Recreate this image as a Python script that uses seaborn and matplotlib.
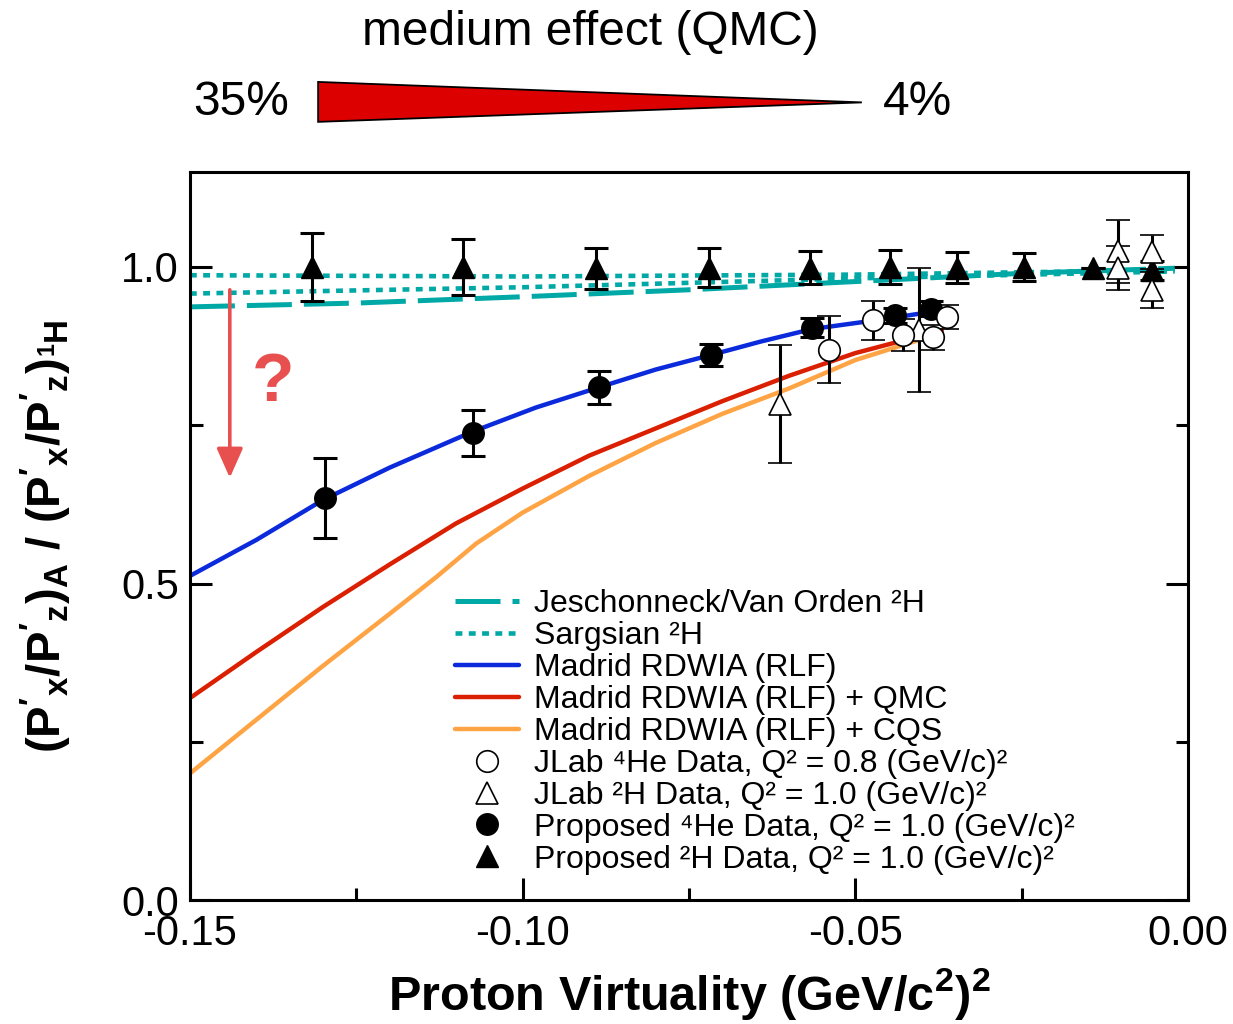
import numpy as np
import pandas as pd
import matplotlib
matplotlib.use("Agg")
import matplotlib.pyplot as plt
import seaborn as sns
from matplotlib.lines import Line2D
from matplotlib.patches import Polygon

# ---------------- data ----------------
# theory curves
jvo_x = [-0.15, -0.125, -0.10, -0.075, -0.05, -0.025, -0.002]
jvo_y = [0.937, 0.943, 0.953, 0.964, 0.977, 0.990, 0.998]
sarg1_x = [-0.15, -0.10, -0.05, -0.002]
sarg1_y = [0.987, 0.985, 0.988, 0.995]
sarg2_x = [-0.15, -0.10, -0.05, -0.002]
sarg2_y = [0.958, 0.968, 0.982, 0.993]
rlf_x = [-0.15, -0.140, -0.130, -0.120, -0.1075, -0.098, -0.0885, -0.080, -0.0717, -0.0643, -0.0565, -0.0489, -0.043, -0.0368]
rlf_y = [0.512, 0.569, 0.632, 0.683, 0.740, 0.778, 0.810, 0.838, 0.861, 0.882, 0.902, 0.913, 0.922, 0.932]
qmc_x = [-0.15, -0.14, -0.13, -0.12, -0.11, -0.10, -0.09, -0.08, -0.07, -0.06, -0.05, -0.037]
qmc_y = [0.319, 0.392, 0.463, 0.530, 0.595, 0.650, 0.702, 0.745, 0.788, 0.828, 0.864, 0.900]
cqs_x = [-0.15, -0.14, -0.13, -0.12, -0.113, -0.107, -0.10, -0.09, -0.08, -0.07, -0.06, -0.05, -0.037]
cqs_y = [0.200, 0.285, 0.370, 0.452, 0.510, 0.563, 0.612, 0.670, 0.722, 0.768, 0.808, 0.853, 0.896]

# data points
jlab_he_x = [-0.0540, -0.0473, -0.0428, -0.0383, -0.0362]
jlab_he_y = [0.869, 0.916, 0.893, 0.889, 0.921]
jlab_he_e = [0.053, 0.031, 0.025, 0.020, 0.019]
jlab_d_x = [-0.0613, -0.0404, -0.0105, -0.0105, -0.0054, -0.0054]
jlab_d_y = [0.784, 0.900, 1.025, 0.998, 1.024, 0.964]
jlab_d_e = [0.093, 0.098, 0.050, 0.035, 0.027, 0.028]
prop_he_x = [-0.1297, -0.1075, -0.0885, -0.0717, -0.0565, -0.0440, -0.0386]
prop_he_y = [0.635, 0.738, 0.810, 0.861, 0.904, 0.924, 0.934]
prop_he_e = [0.063, 0.036, 0.026, 0.017, 0.015, 0.012, 0.012]
prop_d_x = [-0.1317, -0.1090, -0.0890, -0.0720, -0.0568, -0.0448, -0.0347, -0.0246, -0.0143, -0.0054]
prop_d_y = [1.0, 1.0, 0.998, 0.999, 0.999, 1.0, 0.999, 1.0, 0.998, 0.995]
prop_d_e = [0.054, 0.045, 0.032, 0.031, 0.026, 0.027, 0.024, 0.022, 0.0, 0.015]

labels = [
    "Jeschonneck/Van Orden \u00b2H",
    "Sargsian \u00b2H",
    "Madrid RDWIA (RLF)",
    "Madrid RDWIA (RLF) + QMC",
    "Madrid RDWIA (RLF) + CQS",
    "JLab \u2074He Data, Q\u00b2 = 0.8 (GeV/c)\u00b2",
    "JLab \u00b2H Data, Q\u00b2 = 1.0 (GeV/c)\u00b2",
    "Proposed \u2074He Data, Q\u00b2 = 1.0 (GeV/c)\u00b2",
    "Proposed \u00b2H Data, Q\u00b2 = 1.0 (GeV/c)\u00b2",
]
xticks = [-0.15, -0.10, -0.05, 0.0]
xticklabels = ["-0.15", "-0.10", "-0.05", "0.00"]
yticks = [0.0, 0.5, 1.0]
yticklabels = ["0.0", "0.5", "1.0"]

# ---------------- style ----------------
sns.set_theme(style="ticks")
plt.rcParams['font.family'] = ['Liberation Sans', 'DejaVu Sans']
plt.rcParams['mathtext.fontset'] = 'custom'
plt.rcParams['mathtext.rm'] = 'Liberation Sans'
plt.rcParams['mathtext.it'] = 'Liberation Sans:italic'
plt.rcParams['mathtext.bf'] = 'Liberation Sans:bold'
for k in ['text.color', 'axes.labelcolor', 'xtick.color', 'ytick.color', 'axes.edgecolor']:
    plt.rcParams[k] = 'black'

TEAL = '#00A8A6'
BLUE = '#0A2ADB'
RED = '#DA2000'
ORANGE = '#FFA445'
ARROW = '#E8504F'

fig = plt.figure(figsize=(12.33, 10.24), dpi=100)
ax = fig.add_axes([0.154, 0.121, 0.8095, 0.711])

def curve(xs, ys, color, lw, dashes=None):
    df = pd.DataFrame({"x": xs, "y": ys})
    sns.lineplot(data=df, x="x", y="y", ax=ax, color=color, lw=lw, zorder=2)
    ln = ax.lines[-1]
    if dashes is not None:
        ln.set_dashes(dashes)
        ln.set_dash_capstyle('butt')
    return ln

curve(jvo_x, jvo_y, TEAL, 3.6, (9.0, 2.4))
curve(sarg1_x, sarg1_y, TEAL, 3.3, (1.5, 1.4))
curve(sarg2_x, sarg2_y, TEAL, 3.3, (1.5, 1.4))
curve(cqs_x, cqs_y, ORANGE, 3.2)
curve(qmc_x, qmc_y, RED, 3.2)
curve(rlf_x, rlf_y, BLUE, 3.2)

ebk = dict(ecolor='black', elinewidth=2.2, capsize=8.3, capthick=2.2, ls='none', zorder=5)
ax.errorbar(prop_d_x, prop_d_y, yerr=prop_d_e, marker='^', ms=16, mfc='black', mec='black', **ebk)
ax.errorbar(prop_he_x, prop_he_y, yerr=prop_he_e, marker='o', ms=15.5, mfc='black', mec='black', **ebk)
ax.errorbar(jlab_d_x, jlab_d_y, yerr=jlab_d_e, marker='^', ms=16, mfc='white', mec='black', mew=1.2, **ebk)
ax.errorbar(jlab_he_x, jlab_he_y, yerr=jlab_he_e, marker='o', ms=15.5, mfc='white', mec='black', mew=1.2, **ebk)

ax.set_xlim(-0.15, 0.0)
ax.set_ylim(0.0, 1.15)
ax.set_xticks(xticks)
ax.set_xticklabels(xticklabels)
ax.set_yticks(yticks)
ax.set_yticklabels(yticklabels)
ax.set_xticks([-0.125, -0.075, -0.025], minor=True)
ax.set_yticks([0.25, 0.75], minor=True)
ax.tick_params(which='both', direction='in', width=2.2, colors='black', labelsize=30,
               right=True, top=False)
ax.tick_params(which='major', length=16)
ax.tick_params(which='minor', length=9)
ax.tick_params(axis='y', pad=8)
ax.tick_params(axis='x', pad=10)
for s in ax.spines.values():
    s.set_linewidth(2.2)
    s.set_color('black')
    s.set_visible(True)

ax.set_xlabel(r"Proton Virtuality (GeV/c$^{\mathbf{2}}$)$^{\mathbf{2}}$", fontsize=35,
              fontweight='bold', labelpad=9)
ax.set_ylabel(r"$\mathbf{(P'_x/P'_z)_A\ /\ (P'_x/P'_z)_{{}^1H}}$", fontsize=34, labelpad=34)

# legend (proxy handles)
handles = [
    Line2D([], [], color=TEAL, lw=3.6, dashes=(9.0, 2.4)),
    Line2D([], [], color=TEAL, lw=3.3, dashes=(1.5, 1.4)),
    Line2D([], [], color=BLUE, lw=3.2),
    Line2D([], [], color=RED, lw=3.2),
    Line2D([], [], color=ORANGE, lw=3.2),
    Line2D([], [], ls='none', marker='o', ms=15.5, mfc='white', mec='black', mew=1.2),
    Line2D([], [], ls='none', marker='^', ms=16, mfc='white', mec='black', mew=1.2),
    Line2D([], [], ls='none', marker='o', ms=15.5, mfc='black', mec='black'),
    Line2D([], [], ls='none', marker='^', ms=16, mfc='black', mec='black'),
]
leg = ax.legend(handles, labels, loc='upper left', bbox_to_anchor=(0.2655, 0.427),
                frameon=False, fontsize=23, handlelength=2.0, handletextpad=0.47,
                labelspacing=0.06, borderpad=0, borderaxespad=0)

# arrow and question mark
ax.annotate('', xy=(-0.144, 0.667), xytext=(-0.144, 0.964),
            arrowprops=dict(arrowstyle='-|>,head_length=0.9,head_width=0.4', color=ARROW,
                            lw=2.6, shrinkA=0, shrinkB=0, mutation_scale=20))
ax.text(-0.1375, 0.817, '?', color=ARROW, fontsize=50, fontweight='bold', ha='center', va='center')

# top annotation
fig.add_artist(Polygon([[0.258, 0.920], [0.258, 0.881], [0.699, 0.900]], closed=True,
                       transform=fig.transFigure, facecolor='#DD0000', edgecolor='black', lw=1.3))
fig.text(0.479, 0.968, 'medium effect (QMC)', fontsize=34.5, ha='center', va='center')
fig.text(0.1955, 0.900, '35%', fontsize=34.5, ha='center', va='center')
fig.text(0.7445, 0.900, '4%', fontsize=34.5, ha='center', va='center')

fig.savefig('out.png', dpi=100)
